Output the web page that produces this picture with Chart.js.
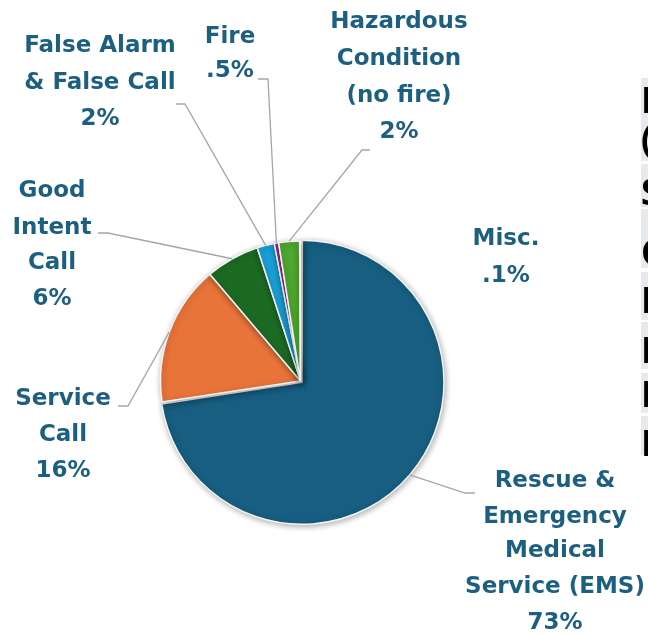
<!DOCTYPE html>
<html>
<head>
<meta charset="utf-8">
<script src="https://cdn.jsdelivr.net/npm/chart.js@4/dist/chart.umd.min.js"></script>
<style>
html,body{margin:0;padding:0;background:#fff;overflow:hidden;width:648px;height:634px;}
canvas{display:block;}
</style>
</head>
<body>
<canvas id="c" width="648" height="634"></canvas>
<script>
// ---- data ----
const categories = ['Rescue & Emergency Medical Service (EMS)', 'Service Call', 'Good Intent Call',
  'False Alarm & False Call', 'Fire', 'Hazardous Condition (no fire)', 'Misc.'];
const shares = [72.6, 16.2, 6.2, 2.0, 0.5, 2.4, 0.1];
const percentLabels = ['73%', '16%', '6%', '2%', '.5%', '2%', '.1%'];
const labelLines = [
  ['Rescue &', 'Emergency', 'Medical', 'Service (EMS)'],
  ['Service', 'Call'],
  ['Good', 'Intent', 'Call'],
  ['False Alarm', '& False Call'],
  ['Fire'],
  ['Hazardous', 'Condition', '(no fire)'],
  ['Misc.']
];
const sliceColors = ['#175e80', '#e8743a', '#1c6b24', '#1a9fd9', '#9c27a0', '#4ea72e', '#e6e6e6'];
const tableRowText = [['I', '('], ['S'], ['C'], ['I'], ['I'], ['I'], ['I']];

// ---- layout (positions only) ----
const labelColor = '#1d5f80';
const labelFont = 'bold 23px "DejaVu Sans"';
// x: center of label block; ys: cap-middle of each line; leader: elbow then end point
const labelLayout = [
  {x: 555, ys: [479, 515, 549, 585, 621], leader: [[465, 493], [475, 493]]},
  {x: 63,  ys: [397, 433, 469],           leader: [[128, 406], [118, 406]]},
  {x: 52,  ys: [189, 226, 261, 297],      leader: [[108, 233], [98, 233]]},
  {x: 100, ys: [44, 81, 117],             leader: [[185, 104], [176, 104]]},
  {x: 230, ys: [35, 69],                  leader: [[268, 79], [258, 79]]},
  {x: 399, ys: [20, 57, 94, 130],         leader: [[362, 150], [370, 150]]},
  {x: 506, ys: [237, 274],                leader: null}
];
const tableLayout = [
  {top: 78, bottom: 161, baselines: [113, 152]},
  {top: 164, bottom: 207, baselines: [205]},
  {top: 209, bottom: 268, baselines: [265]},
  {top: 272, bottom: 320, baselines: [313]},
  {top: 322, bottom: 369, baselines: [363]},
  {top: 373, bottom: 413, baselines: [407]},
  {top: 416, bottom: 455, baselines: [456]}
];

const shadowPlugin = {
  id: 'shadow',
  beforeDatasetsDraw(chart) {
    const ctx = chart.ctx;
    ctx.save();
    ctx.shadowColor = 'rgba(0,0,0,0.32)';
    ctx.shadowBlur = 6;
    ctx.shadowOffsetX = 1;
    ctx.shadowOffsetY = 1.5;
  },
  afterDatasetsDraw(chart) {
    chart.ctx.restore();
  }
};

const labelPlugin = {
  id: 'labels',
  afterDraw(chart) {
    const ctx = chart.ctx;
    const meta = chart.getDatasetMeta(0);
    ctx.save();
    meta.data.forEach((arc, i) => {
      const lay = labelLayout[i];
      const p = arc.getProps(['x', 'y', 'startAngle', 'endAngle', 'outerRadius', 'circumference'], true);
      const mid = (p.startAngle + p.endAngle) / 2;
      const off = (arc.options.offset || 0) / 4;
      const fix = 1 - Math.sin(Math.min(Math.PI, p.circumference || 0));
      const shift = off + off * fix;
      const ax = p.x + Math.cos(mid) * (p.outerRadius + shift);
      const ay = p.y + Math.sin(mid) * (p.outerRadius + shift);
      if (lay.leader) {
        ctx.beginPath();
        ctx.strokeStyle = '#a6a6a6';
        ctx.lineWidth = 1.3;
        ctx.moveTo(ax, ay);
        lay.leader.forEach(pt => ctx.lineTo(pt[0], pt[1]));
        ctx.stroke();
      }
      const lines = labelLines[i].concat([percentLabels[i]]);
      ctx.fillStyle = labelColor;
      ctx.font = labelFont;
      ctx.textAlign = 'center';
      ctx.textBaseline = 'alphabetic';
      lines.forEach((t, k) => {
        ctx.fillText(t, lay.x, lay.ys[k] + 8.4);
      });
    });
    // cropped table at right edge
    ctx.textAlign = 'left';
    ctx.font = 'bold 35px "Open Sans"';
    tableLayout.forEach((r, i) => {
      ctx.fillStyle = '#e8e9eb';
      ctx.fillRect(641, r.top, 10, r.bottom - r.top);
      ctx.fillStyle = '#000';
      tableRowText[i].forEach((t, k) => ctx.fillText(t, 641, r.baselines[k]));
    });
    ctx.restore();
  }
};

new Chart(document.getElementById('c'), {
  type: 'pie',
  data: {
    labels: categories,
    datasets: [{
      data: shares,
      backgroundColor: sliceColors,
      borderColor: '#f4f4f4',
      borderWidth: 1.5,
      offset: [8, 0, 0, 0, 0, 0, 0],
      radius: 140
    }]
  },
  options: {
    responsive: false,
    animation: false,
    events: [],
    layout: {padding: {left: 150, right: 197, top: 240, bottom: 112}},
    plugins: {legend: {display: false}, tooltip: {enabled: false}}
  },
  plugins: [shadowPlugin, labelPlugin]
});
</script>
</body>
</html>
